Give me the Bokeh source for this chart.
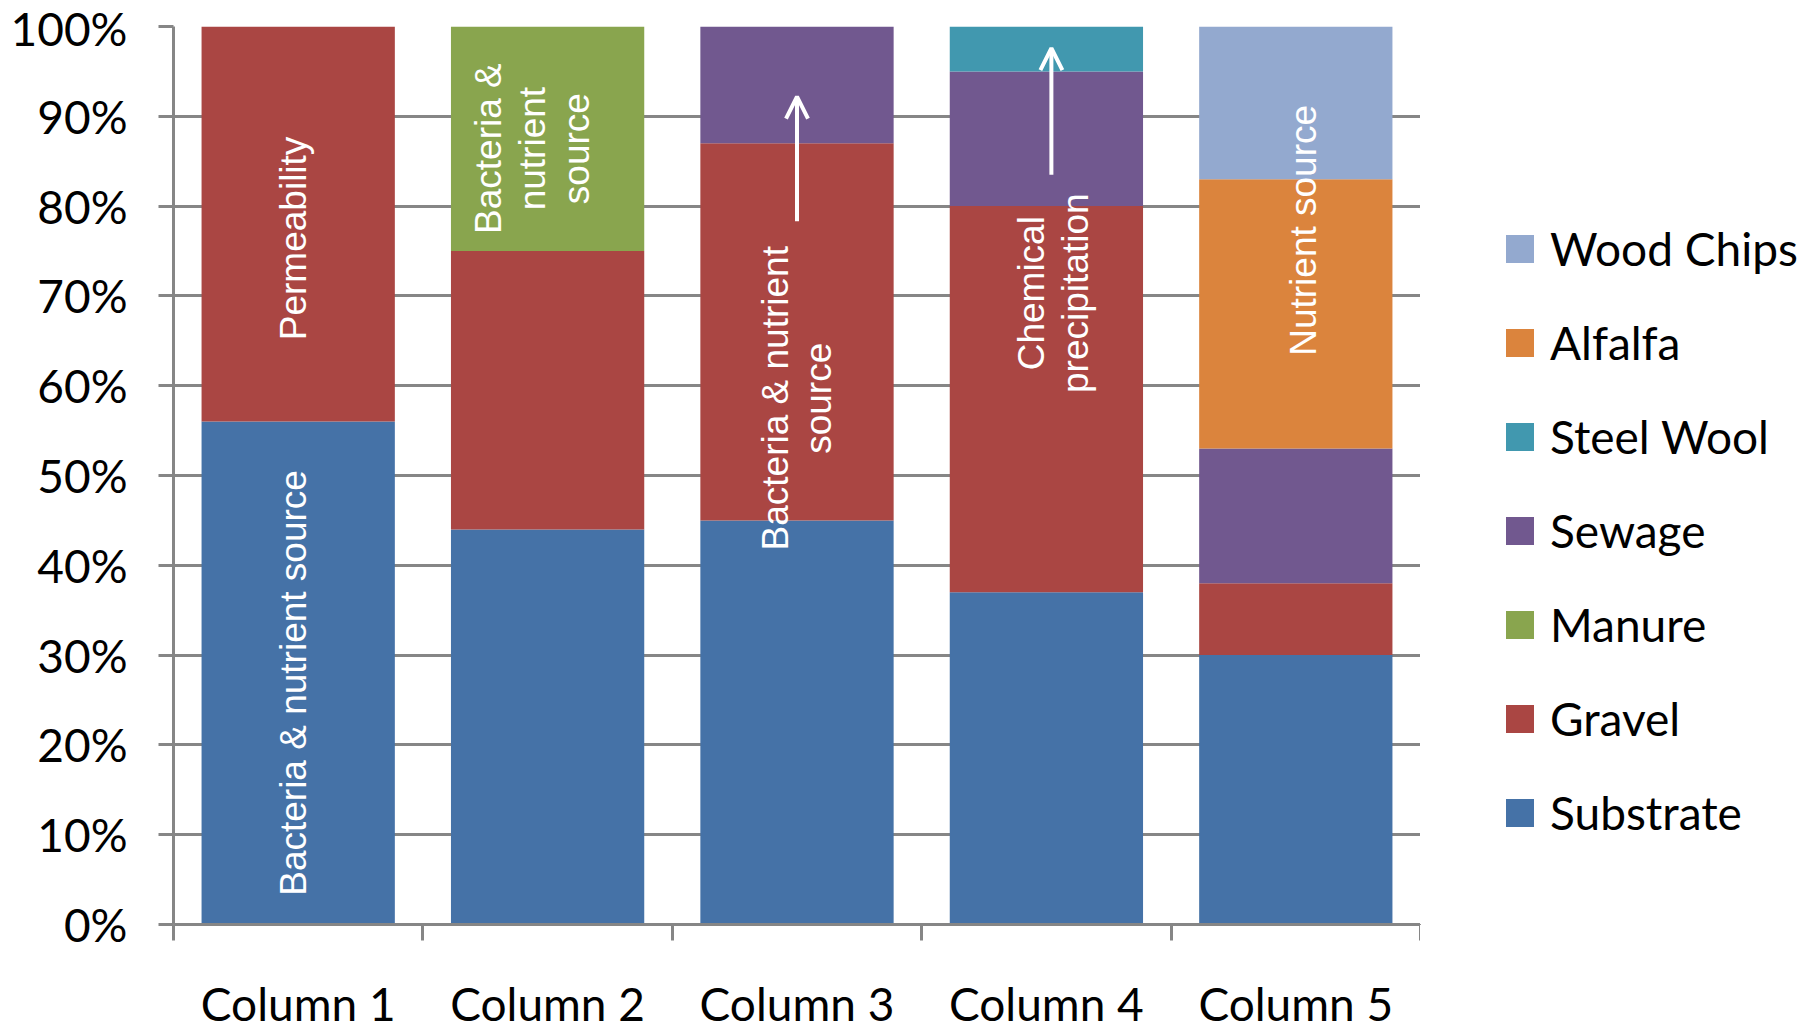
import numpy as np
from bokeh.plotting import figure
from bokeh.layouts import row
from bokeh.models import (ColumnDataSource, Range1d, FixedTicker, LinearAxis, Grid,
                          Legend, LegendItem, PrintfTickFormatter, Arrow, OpenHead)
from bokeh.core.properties import value
from bokeh.embed import file_html
from bokeh.resources import INLINE

# ---- data -------------------------------------------------------------
columns = ["Column 1", "Column 2", "Column 3", "Column 4", "Column 5"]
materials = ["Substrate", "Gravel", "Manure", "Sewage", "Steel Wool", "Alfalfa", "Wood Chips"]

substrate = [56, 44, 45, 37, 30]
gravel = [44, 31, 42, 43, 8]
manure = [0, 25, 0, 0, 0]
sewage = [0, 0, 13, 15, 15]
steel_wool = [0, 0, 0, 5, 0]
alfalfa = [0, 0, 0, 0, 30]
wood_chips = [0, 0, 0, 0, 17]

y_ticks = [0, 10, 20, 30, 40, 50, 60, 70, 80, 90, 100]

# role annotations written inside the bars
note_text = ["Permeability", "Bacteria & nutrient source", "Bacteria &\nnutrient\nsource",
             "Bacteria & nutrient\nsource", "Chemical\nprecipitation", "Nutrient source"]
note_column = [0, 0, 1, 2, 3, 4]

# ---- styling ----------------------------------------------------------
colors = ["#4572A7", "#AA4643", "#89A54E", "#71588F", "#4198AF", "#DB843D", "#93A9CF"]
grid_gray = "#868686"
axis_font = "Lato"
note_font = "Liberation Sans"

x_centers = [i + 0.5 for i in range(len(columns))]
series = [substrate, gravel, manure, sewage, steel_wool, alfalfa, wood_chips]
data = {"x": x_centers}
for name, vals in zip(materials, series):
    data[name] = vals
source = ColumnDataSource(data)

# ---- main chart -------------------------------------------------------
p = figure(width=1420, height=1033, output_backend="svg", toolbar_location=None,
           x_range=Range1d(0, len(columns)), y_range=Range1d(0, 100),
           x_axis_type=None, y_axis_type=None,
           min_border_left=173, min_border_right=0, min_border_top=26, min_border_bottom=109)
p.outline_line_color = None
p.background_fill_color = "white"

# y axis with percent labels
yaxis = LinearAxis(ticker=FixedTicker(ticks=y_ticks), formatter=PrintfTickFormatter(format="%d%%"))
yaxis.axis_line_color = grid_gray
yaxis.axis_line_width = 3
yaxis.major_tick_line_color = grid_gray
yaxis.major_tick_line_width = 3
yaxis.major_tick_out = 15
yaxis.major_tick_in = 0
yaxis.minor_tick_line_color = None
yaxis.major_label_standoff = 31
yaxis.major_label_text_font = axis_font
yaxis.major_label_text_font_size = "46px"
yaxis.major_label_text_color = "black"
p.add_layout(yaxis, "left")

p.add_layout(Grid(dimension=1, ticker=yaxis.ticker, grid_line_color=grid_gray, grid_line_width=3))

# x axis: names centred under each bar, tick marks at the column boundaries
xaxis = LinearAxis(ticker=FixedTicker(ticks=x_centers, minor_ticks=list(range(len(columns) + 1))),
                   major_label_overrides={x: c for x, c in zip(x_centers, columns)})
xaxis.axis_line_color = grid_gray
xaxis.axis_line_width = 3
xaxis.major_tick_line_color = None
xaxis.major_tick_out = 0
xaxis.major_tick_in = 0
xaxis.minor_tick_line_color = grid_gray
xaxis.minor_tick_line_width = 3
xaxis.minor_tick_out = 16
xaxis.minor_tick_in = 0
xaxis.major_label_standoff = 35
xaxis.major_label_text_font = axis_font
xaxis.major_label_text_font_size = "46px"
xaxis.major_label_text_line_height = 1.0
xaxis.major_label_text_color = "black"
p.add_layout(xaxis, "below")

renderers = p.vbar_stack(materials, x="x", width=0.775, color=colors, line_color=None, source=source)

# annotation text positions (column centre offset, height in %)
note_dx = [-0.02, -0.02, -0.06, 0.0, 0.03, 0.03]
note_y = [76.4, 26.9, 86.4, 58.6, 70.3, 77.3]
notes = ColumnDataSource(dict(
    x=[x_centers[c] + d for c, d in zip(note_column, note_dx)],
    y=note_y, text=note_text))
p.text(x="x", y="y", text="text", source=notes, angle=np.pi / 2,
       text_color="white", text_font=value(note_font), text_font_size="37px",
       text_align="center", text_baseline="middle", text_line_height=1.07)

# arrows pointing up into the sewage / steel wool layers
arrow_col = [2, 3]
arrow_dx = [0.0, 0.02]
arrow_y0 = [78.3, 83.5]
arrow_y1 = [92.2, 97.6]
for c, d, y0, y1 in zip(arrow_col, arrow_dx, arrow_y0, arrow_y1):
    xa = x_centers[c] + d
    p.add_layout(Arrow(end=OpenHead(size=22, line_color="white", line_width=4),
                       x_start=xa, y_start=y0, x_end=xa, y_end=y1,
                       line_color="white", line_width=4))

# ---- legend panel -----------------------------------------------------
# the same stack is drawn outside this panel's visible range so only the legend shows
lg = figure(width=393, height=1033, output_backend="svg", toolbar_location=None,
            x_range=Range1d(100, 101), y_range=Range1d(1000, 1001),
            x_axis_type=None, y_axis_type=None, min_border=0)
lg.outline_line_color = None
lg.xgrid.visible = False
lg.ygrid.visible = False
legend_renderers = lg.vbar_stack(materials, x="x", width=0.775, color=colors,
                                 line_color=None, source=source)

legend = Legend(items=[LegendItem(label=m, renderers=[r])
                       for m, r in reversed(list(zip(materials, legend_renderers)))],
                location=(82, 84))
legend.glyph_width = 35
legend.glyph_height = 35
legend.label_standoff = 13
legend.label_height = 56
legend.spacing = 38
legend.padding = 0
legend.margin = 0
legend.border_line_color = None
legend.background_fill_alpha = 0
legend.label_text_font = axis_font
legend.label_text_font_size = "46px"
legend.label_text_color = "black"
lg.add_layout(legend)

layout = row(p, lg, spacing=0)
open("out.html", "w").write(file_html(layout, INLINE))
